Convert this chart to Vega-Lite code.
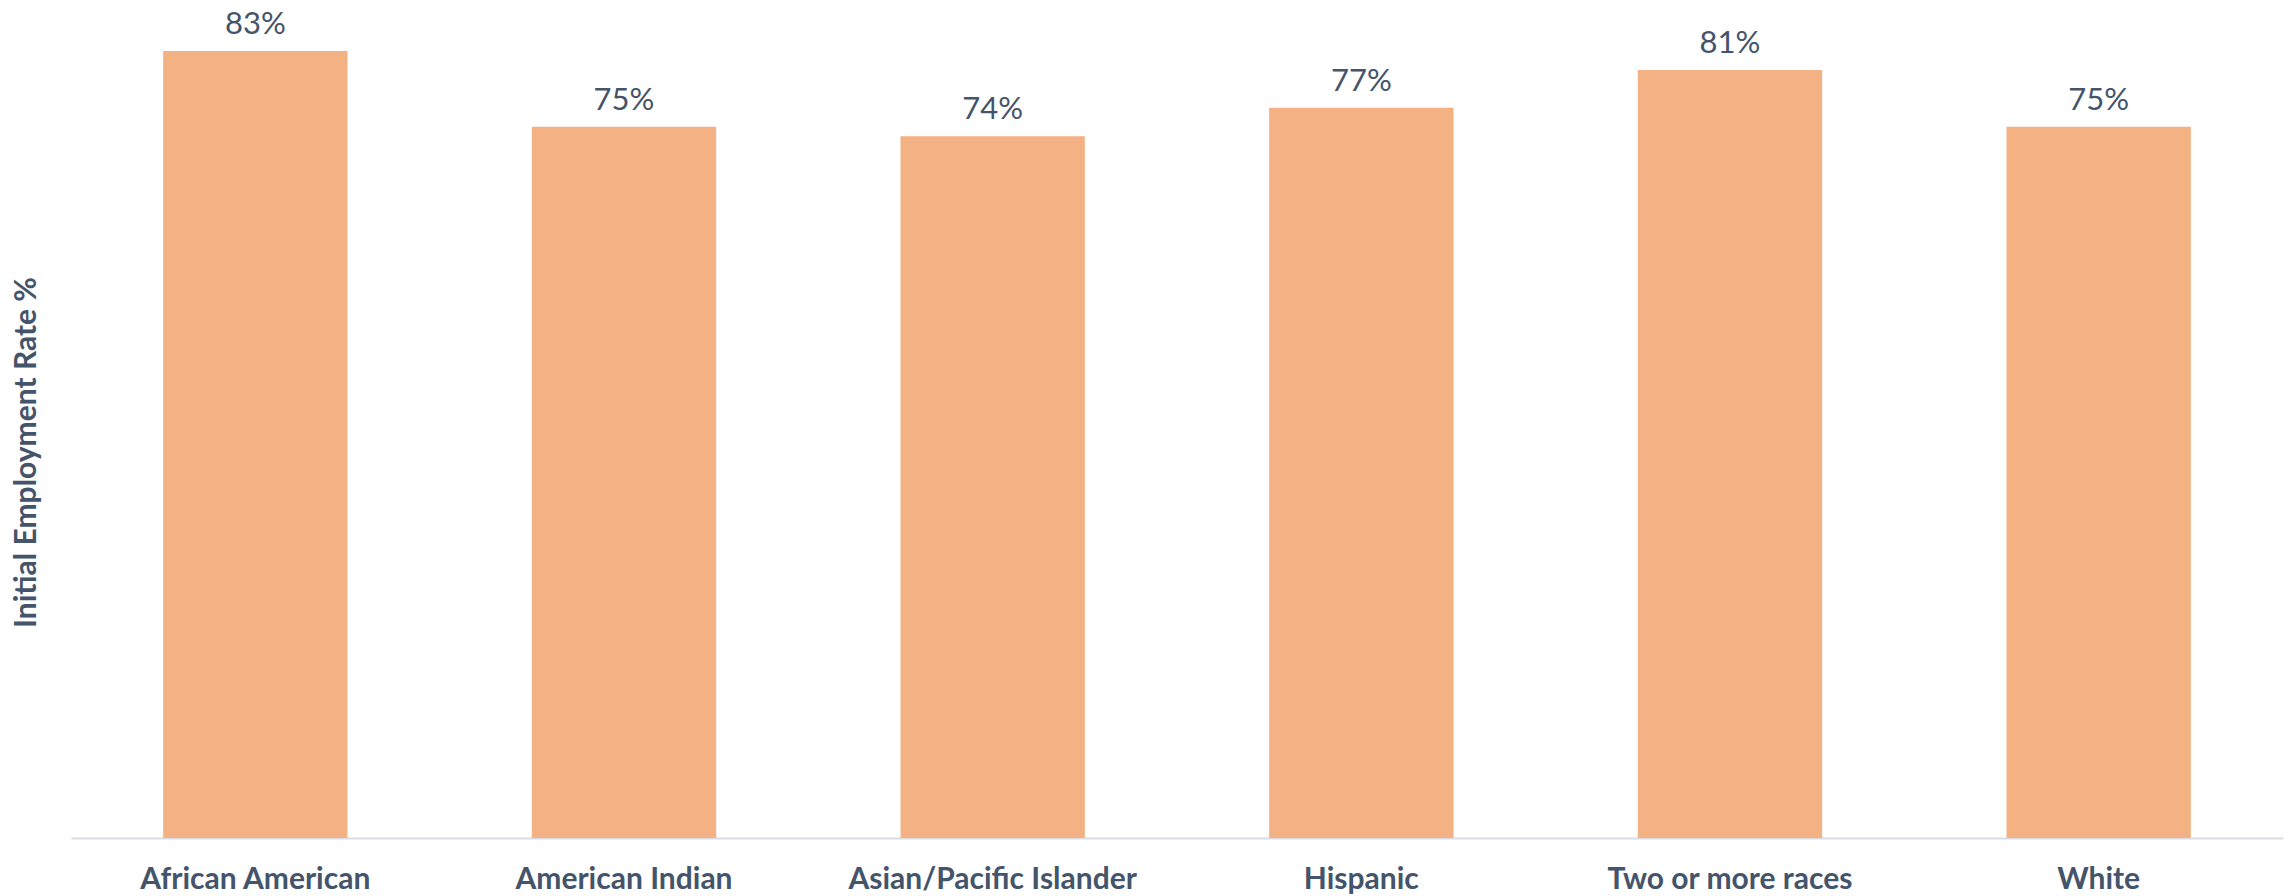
{
  "$schema": "https://vega.github.io/schema/vega-lite/v6.json",
  "width": 2212,
  "height": 825,
  "autosize": "none",
  "padding": {"left": 71, "top": 13, "right": 9, "bottom": 58},
  "background": "white",
  "config": {"view": {"stroke": null}, "font": "Lato"},
  "data": {"values": [
    {"group": "African American", "rate": 0.83},
    {"group": "American Indian", "rate": 0.75},
    {"group": "Asian/Pacific Islander", "rate": 0.74},
    {"group": "Hispanic", "rate": 0.77},
    {"group": "Two or more races", "rate": 0.81},
    {"group": "White", "rate": 0.75}
  ]},
  "encoding": {
    "x": {"field": "group", "type": "nominal", "sort": null,
      "scale": {"paddingInner": 0.5, "paddingOuter": 0.25},
      "axis": {"title": null, "labelAngle": 0, "ticks": false, "domainColor": "#D9DDE3", "domainWidth": 2, "labelLimit": 0,
        "labelFont": "Lato", "labelFontWeight": "bold", "labelFontSize": 30, "labelColor": "#44546A", "labelPadding": 26}},
    "y": {"field": "rate", "type": "quantitative",
      "scale": {"domain": [0, 0.87]},
      "axis": {"title": "Initial Employment Rate %", "labels": false, "ticks": false, "domain": false, "grid": false,
        "titleFont": "Lato", "titleFontWeight": "bold", "titleFontSize": 30, "titleColor": "#44546A",
        "titleX": -45, "titleY": 439, "titleAngle": -90, "titleAlign": "center", "titleBaseline": "middle"}}
  },
  "layer": [
    {"mark": {"type": "bar", "color": "#F4B183"}},
    {"mark": {"type": "text", "baseline": "bottom", "dy": -10, "fontSize": 31, "color": "#44546A", "font": "Lato"},
      "encoding": {"text": {"field": "rate", "type": "quantitative", "format": ".0%"}}}
  ]
}
